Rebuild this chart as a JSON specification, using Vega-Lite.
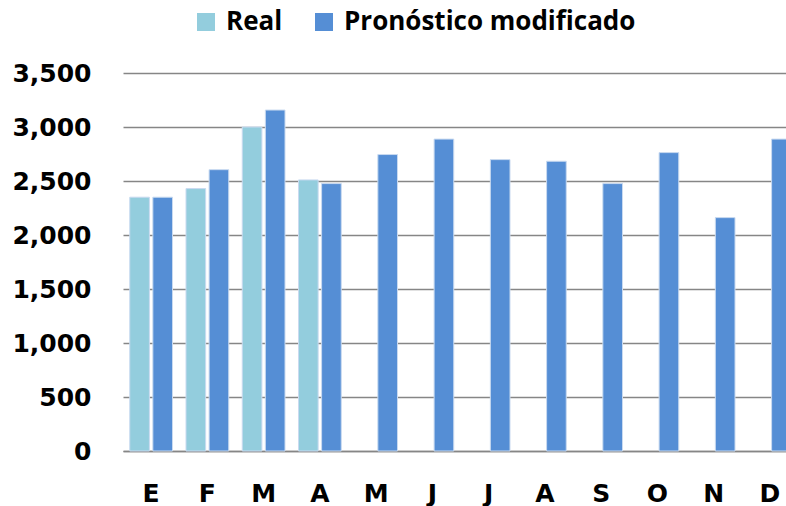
{
  "$schema": "https://vega.github.io/schema/vega-lite/v6.json",
  "width": 675,
  "height": 378,
  "autosize": {"type": "none"},
  "padding": {"left": 123, "top": 73, "right": 0, "bottom": 55},
  "background": "white",
  "config": {"view": {"stroke": null}},
  "data": {
    "values": [
      {"mes": "Enero", "serie": "Real", "valor": 2350},
      {"mes": "Enero", "serie": "Pronóstico modificado", "valor": 2350},
      {"mes": "Febrero", "serie": "Real", "valor": 2430},
      {"mes": "Febrero", "serie": "Pronóstico modificado", "valor": 2605},
      {"mes": "Marzo", "serie": "Real", "valor": 3000},
      {"mes": "Marzo", "serie": "Pronóstico modificado", "valor": 3157},
      {"mes": "Abril", "serie": "Real", "valor": 2510},
      {"mes": "Abril", "serie": "Pronóstico modificado", "valor": 2476},
      {"mes": "Mayo", "serie": "Pronóstico modificado", "valor": 2745},
      {"mes": "Junio", "serie": "Pronóstico modificado", "valor": 2888},
      {"mes": "Julio", "serie": "Pronóstico modificado", "valor": 2698},
      {"mes": "Agosto", "serie": "Pronóstico modificado", "valor": 2683},
      {"mes": "Septiembre", "serie": "Pronóstico modificado", "valor": 2476},
      {"mes": "Octubre", "serie": "Pronóstico modificado", "valor": 2763},
      {"mes": "Noviembre", "serie": "Pronóstico modificado", "valor": 2161},
      {"mes": "Diciembre", "serie": "Pronóstico modificado", "valor": 2888}
    ]
  },
  "mark": {"type": "bar", "stroke": "#c9daf0", "strokeWidth": 1},
  "encoding": {
    "x": {
      "field": "mes",
      "type": "nominal",
      "sort": ["Enero", "Febrero", "Marzo", "Abril", "Mayo", "Junio", "Julio", "Agosto", "Septiembre", "Octubre", "Noviembre", "Diciembre"],
      "scale": {"paddingInner": 0.24, "paddingOuter": 0.12},
      "axis": {
        "title": null,
        "labelAngle": 0,
        "labelExpr": "substring(datum.label, 0, 1)",
        "labelFont": "DejaVu Sans",
        "labelFontWeight": "bold",
        "labelFontSize": 25,
        "labelColor": "black",
        "labelPadding": 30,
        "ticks": false,
        "domainColor": "#868686",
        "domainWidth": 1.5,
        "grid": false
      }
    },
    "xOffset": {
      "field": "serie",
      "type": "nominal",
      "sort": ["Real", "Pronóstico modificado"],
      "scale": {"paddingInner": 0.15}
    },
    "y": {
      "field": "valor",
      "type": "quantitative",
      "scale": {"domain": [0, 3500], "nice": false},
      "axis": {
        "title": null,
        "values": [0, 500, 1000, 1500, 2000, 2500, 3000, 3500],
        "format": ",.0f",
        "labelFont": "DejaVu Sans",
        "labelFontWeight": "bold",
        "labelFontSize": 25,
        "labelColor": "black",
        "labelPadding": 32,
        "ticks": false,
        "domain": false,
        "grid": true,
        "gridColor": "#868686",
        "gridWidth": 1.5
      }
    },
    "color": {
      "field": "serie",
      "type": "nominal",
      "sort": ["Real", "Pronóstico modificado"],
      "scale": {"domain": ["Real", "Pronóstico modificado"], "range": ["#93CDDD", "#558ED5"]},
      "legend": {
        "title": null,
        "orient": "none",
        "legendX": 70,
        "legendY": -64,
        "direction": "horizontal",
        "symbolType": "square",
        "symbolSize": 324,
        "symbolStrokeWidth": 0,
        "labelFont": "Open Sans",
        "labelFontWeight": "bold",
        "labelFontSize": 26,
        "labelLimit": 500,
        "labelColor": "black",
        "labelOffset": 7,
        "columnPadding": 28
      }
    }
  }
}
